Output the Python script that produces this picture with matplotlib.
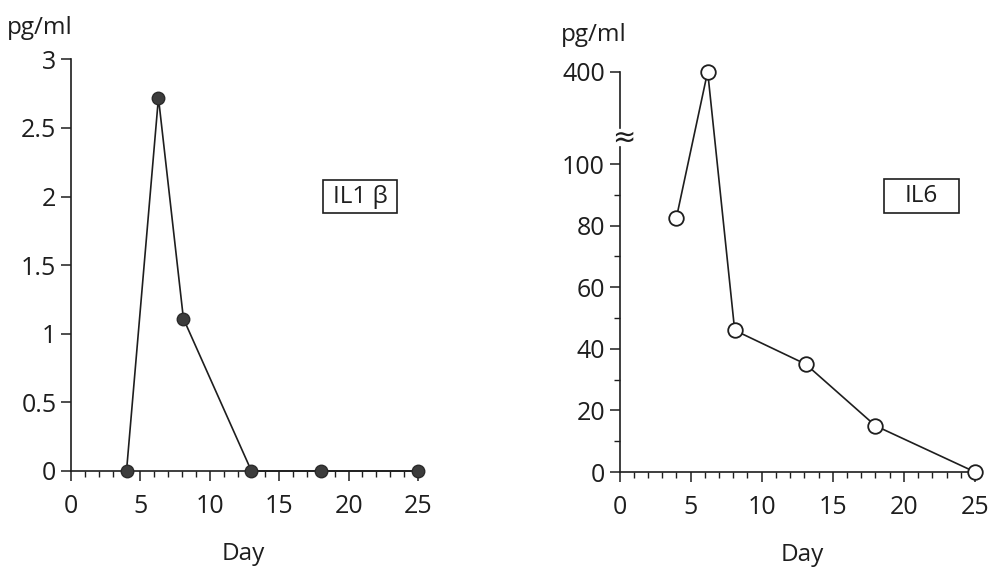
import matplotlib
matplotlib.use('Agg')
import matplotlib.pyplot as plt
import numpy as np
from matplotlib.patches import Rectangle

# ---------------- data ----------------
days_il1b = [4, 6.3, 8.1, 13, 18, 25]
il1b = [0, 2.72, 1.11, 0, 0, 0]
days_il6 = [4, 6.2, 8.1, 13.1, 18, 25]
il6 = [82.5, 400, 46, 35, 15, 0]

x_ticks = [0, 5, 10, 15, 20, 25]
il1b_yticks = [0, 0.5, 1, 1.5, 2, 2.5, 3]
il1b_ylabels = ['0', '0.5', '1', '1.5', '2', '2.5', '3']
il6_yticks = [0, 20, 40, 60, 80, 100, 400]
il6_ylabels = ['0', '20', '40', '60', '80', '100', '400']
il6_yminor = [10, 30, 50, 70, 90]

# ---------------- layout ----------------
W, H = 990, 567
plt.rcParams['font.family'] = ['Open Sans', 'DejaVu Sans']
fig = plt.figure(figsize=(W / 100, H / 100), dpi=100)
INK = '#1e1e1e'
FS = 18


def rect(xa, xb, pa, pb, ya, yb, qa, qb, xlim, ylim):
    sx = (pb - pa) / (xb - xa)
    left = pa + (xlim[0] - xa) * sx
    right = pa + (xlim[1] - xa) * sx
    sy = (qb - qa) / (yb - ya)
    top = qa + (ylim[1] - ya) * sy
    bottom = qa + (ylim[0] - ya) * sy
    return [left / W, 1 - bottom / H, (right - left) / W, (bottom - top) / H]


def style(ax):
    for s in ['top', 'right']:
        ax.spines[s].set_visible(False)
    ax.spines['left'].set_position(('data', 0))
    ax.spines['bottom'].set_position(('data', 0))
    for s in ['left', 'bottom']:
        ax.spines[s].set_linewidth(1.2)
        ax.spines[s].set_color(INK)
    ax.tick_params(axis='both', which='major', direction='out', length=7.5,
                   width=1.1, color=INK, labelsize=FS, labelcolor=INK)
    ax.tick_params(axis='both', which='minor', direction='out', length=4.5,
                   width=1.0, color=INK)
    ax.tick_params(axis='x', which='major', pad=9)
    ax.tick_params(axis='y', which='major', pad=3)
    ax.set_xticks(x_ticks)
    ax.set_xticks(np.arange(0, 26, 1), minor=True)
    ax.spines['bottom'].set_bounds(0, 25)
    ax.patch.set_visible(False)


# ---------- left panel : IL1 beta ----------
xlimL = (-0.6, 25.6)
ylimL = (-0.08, 3.05)
axL = fig.add_axes(rect(0, 25, 71, 418, 0, 3, 471, 59.3, xlimL, ylimL))
axL.set_xlim(*xlimL)
axL.set_ylim(*ylimL)
style(axL)
axL.set_yticks(il1b_yticks)
axL.set_yticklabels(il1b_ylabels)
axL.spines['left'].set_bounds(0, 3)
axL.plot(days_il1b, il1b, color=INK, lw=1.2, marker='o', ms=9,
         mfc='#3c3c3c', mec='#2a2a2a', mew=1.0, clip_on=False, zorder=5)

# ---------- right panel : IL6 (broken axis) ----------
K = 0.1


def fwd(y):
    y = np.asarray(y, dtype=float)
    return np.where(y <= 100, y, 100 + (y - 100) * K)


def inv(t):
    t = np.asarray(t, dtype=float)
    return np.where(t <= 100, t, 100 + (t - 100) / K)


xlimR = (-0.6, 25.6)
ylimR_t = (-3.5, 134)
axR = fig.add_axes(rect(0, 25, 619.5, 975, 0, 100, 472, 164, xlimR, ylimR_t))
axR.set_yscale('function', functions=(fwd, inv))
axR.set_xlim(*xlimR)
axR.set_ylim(ylimR_t[0], float(inv(ylimR_t[1])))
style(axR)
axR.set_yticks(il6_yticks)
axR.set_yticklabels(il6_ylabels)
axR.set_yticks(il6_yminor, minor=True)
# axis break
axR.spines['left'].set_bounds(0, 155)
axR.plot([0, 0], [217, 400], color=INK, lw=1.2, clip_on=False, zorder=3)
axR.text(0.3, 186, '\u2248', ha='center', va='center', fontsize=20,
         color=INK, family=['DejaVu Sans'])
axR.plot(days_il6, il6, color=INK, lw=1.2, marker='o', ms=10.5,
         mfc='white', mec=INK, mew=1.3, clip_on=False, zorder=5)

# ---------- texts ----------
fig.text(40 / W, 1 - 28 / H, 'pg/ml', ha='center', va='center', fontsize=17.5, color=INK)
fig.text(594 / W, 1 - 35 / H, 'pg/ml', ha='center', va='center', fontsize=17.5, color=INK)
fig.text(243 / W, 1 - 554 / H, 'Day', ha='center', va='center', fontsize=17.5, color=INK)
fig.text(802 / W, 1 - 555 / H, 'Day', ha='center', va='center', fontsize=17.5, color=INK)


def labelbox(x0, x1, y0, y1, s):
    fig.add_artist(Rectangle((x0 / W, 1 - y1 / H), (x1 - x0) / W, (y1 - y0) / H,
                             transform=fig.transFigure, fill=False, lw=1.2, ec=INK))
    fig.text((x0 + x1) / 2 / W, 1 - (y0 + y1) / 2 / H, s, ha='center', va='center',
             fontsize=17.5, color=INK)


labelbox(322.7, 397.3, 180, 213.3, 'IL1 \u03b2')
labelbox(884, 959, 179, 212.7, 'IL6')

fig.savefig('out.png', dpi=100)
